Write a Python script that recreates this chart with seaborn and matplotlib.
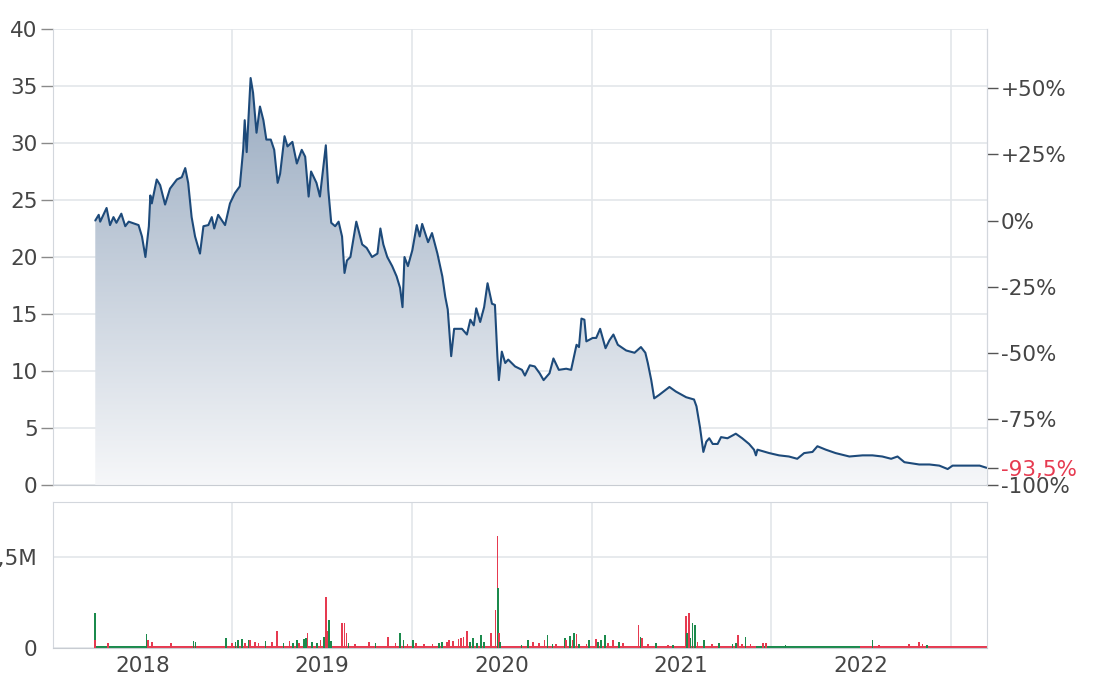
import numpy as np
import pandas as pd
import matplotlib
matplotlib.use("Agg")
import matplotlib.pyplot as plt
import matplotlib.dates as mdates
from matplotlib.colors import LinearSegmentedColormap
import seaborn as sns

# Price series (closing prices)
price_dates = [
    "2018-03-28", "2018-04-04", "2018-04-07", "2018-04-20", "2018-04-27", "2018-05-04", "2018-05-10",
    "2018-05-20", "2018-05-28", "2018-06-04", "2018-06-24", "2018-07-01", "2018-07-08", "2018-07-15",
    "2018-07-18", "2018-07-21", "2018-07-31", "2018-08-07", "2018-08-17", "2018-08-27", "2018-09-10",
    "2018-09-20", "2018-09-27", "2018-10-03", "2018-10-10", "2018-10-17", "2018-10-27", "2018-11-03",
    "2018-11-13", "2018-11-20", "2018-11-25", "2018-12-03", "2018-12-17", "2018-12-27",
    "2019-01-06", "2019-01-16", "2019-01-23", "2019-01-26", "2019-01-30", "2019-02-07", "2019-02-12",
    "2019-02-19", "2019-02-26", "2019-03-05", "2019-03-11", "2019-03-20", "2019-03-27", "2019-04-03",
    "2019-04-08", "2019-04-17", "2019-04-23", "2019-05-03", "2019-05-12", "2019-05-22", "2019-05-29",
    "2019-06-05", "2019-06-10", "2019-06-21", "2019-06-28", "2019-07-10", "2019-07-15", "2019-07-21",
    "2019-07-29", "2019-08-05", "2019-08-12", "2019-08-17", "2019-08-22", "2019-08-29", "2019-09-10",
    "2019-09-22", "2019-10-01", "2019-10-12", "2019-10-23", "2019-10-29", "2019-11-04", "2019-11-12",
    "2019-11-22", "2019-12-01", "2019-12-08", "2019-12-13", "2019-12-17", "2019-12-24",
    "2020-01-02", "2020-01-11", "2020-01-17", "2020-01-22", "2020-02-03", "2020-02-11", "2020-02-22",
    "2020-03-03", "2020-03-09", "2020-03-14", "2020-03-21", "2020-03-27", "2020-04-12", "2020-04-22",
    "2020-04-29", "2020-05-06", "2020-05-11", "2020-05-19", "2020-05-27", "2020-06-03", "2020-06-12",
    "2020-06-18", "2020-06-23", "2020-06-26", "2020-07-02", "2020-07-09", "2020-07-15", "2020-07-29",
    "2020-08-12", "2020-08-18", "2020-08-28", "2020-09-07", "2020-09-17", "2020-09-25", "2020-10-07",
    "2020-10-15", "2020-10-26", "2020-11-10", "2020-11-20", "2020-12-01", "2020-12-06", "2020-12-11",
    "2020-12-17", "2020-12-21",
    "2021-01-03", "2021-01-10", "2021-01-18", "2021-01-29", "2021-02-06", "2021-02-14", "2021-02-23",
    "2021-03-12", "2021-03-29", "2021-04-11", "2021-04-20", "2021-04-25", "2021-05-02", "2021-05-08",
    "2021-05-18", "2021-06-08", "2021-06-21", "2021-07-12", "2021-07-28", "2021-08-02", "2021-08-09",
    "2021-08-16", "2021-08-22", "2021-08-28", "2021-09-04", "2021-09-14", "2021-09-21", "2021-10-04",
    "2021-10-21", "2021-11-03", "2021-11-17", "2021-11-27", "2021-12-01", "2021-12-04", "2021-12-28",
    "2022-01-17", "2022-02-06", "2022-02-23", "2022-03-09", "2022-03-26", "2022-04-05", "2022-04-22",
    "2022-05-12", "2022-06-09", "2022-07-06", "2022-07-26", "2022-08-15", "2022-09-02", "2022-09-15",
    "2022-09-29", "2022-10-29", "2022-11-19", "2022-12-09", "2022-12-26",
    "2023-01-05", "2023-02-02", "2023-03-01", "2023-03-15",
]
price_values = [
    23.2, 23.7, 23.1, 24.3, 22.8, 23.5, 23.0,
    23.8, 22.7, 23.1, 22.8, 21.8, 20.0, 22.7,
    25.4, 24.7, 26.8, 26.3, 24.6, 26.0, 26.8,
    27.0, 27.8, 26.5, 23.5, 21.8, 20.3, 22.7,
    22.8, 23.5, 22.5, 23.7, 22.8, 24.7,
    25.6, 26.2, 29.5, 32.0, 29.2, 35.7, 34.4,
    30.9, 33.2, 32.0, 30.3, 30.3, 29.4, 26.5,
    27.3, 30.6, 29.7, 30.1, 28.2, 29.4, 28.8,
    25.3, 27.5, 26.5, 25.3, 29.8, 25.9, 23.0,
    22.7, 23.1, 21.8, 18.6, 19.7, 20.0, 23.1,
    21.1, 20.8, 20.0, 20.3, 22.5, 21.1, 20.0,
    19.2, 18.3, 17.3, 15.6, 20.0, 19.2,
    20.6, 22.8, 21.8, 22.9, 21.3, 22.1, 20.3,
    18.3, 16.5, 15.4, 11.3, 13.7, 13.7, 13.2,
    14.5, 14.0, 15.5, 14.3, 15.6, 17.7, 15.9,
    15.8, 11.3, 9.2, 11.7, 10.7, 11.0, 10.4,
    10.1, 9.6, 10.5, 10.4, 9.8, 9.2, 9.8,
    11.1, 10.1, 10.2, 10.1, 12.3, 12.1, 14.6,
    14.5, 12.6,
    12.9, 12.9, 13.7, 12.0, 12.7, 13.2, 12.3,
    11.8, 11.6, 12.1, 11.6, 10.7, 9.2, 7.6,
    7.9, 8.6, 8.2, 7.7, 7.5, 6.9, 5.1,
    2.9, 3.8, 4.1, 3.6, 3.6, 4.2, 4.1,
    4.5, 4.1, 3.6, 3.1, 2.6, 3.1, 2.8,
    2.6, 2.5, 2.3, 2.8, 2.9, 3.4, 3.1,
    2.8, 2.5, 2.6, 2.6, 2.5, 2.3, 2.5,
    2.0, 1.8, 1.8, 1.7, 1.4,
    1.7, 1.7, 1.7, 1.51,
]

# Daily volume spikes (millions), 1 = up day (green), 0 = down day (red)
vol_dates = [
    "2018-03-27", "2018-03-28", "2018-04-23", "2018-07-10", "2018-07-13", "2018-07-21", "2018-08-29",
    "2018-10-14", "2018-10-18", "2018-12-19", "2018-12-31",
    "2019-01-07", "2019-01-13", "2019-01-20", "2019-01-26", "2019-02-03", "2019-02-06", "2019-02-16",
    "2019-02-23", "2019-03-09", "2019-03-23", "2019-04-02", "2019-04-15", "2019-04-27", "2019-05-04",
    "2019-05-12", "2019-05-16", "2019-05-26", "2019-05-31", "2019-06-03", "2019-06-12", "2019-06-22",
    "2019-06-29", "2019-07-06", "2019-07-11", "2019-07-14", "2019-07-17", "2019-07-20", "2019-08-12",
    "2019-08-17", "2019-08-21", "2019-08-25", "2019-09-08", "2019-10-06", "2019-10-19", "2019-11-13",
    "2019-11-29", "2019-12-08", "2019-12-15", "2019-12-23",
    "2020-01-04", "2020-01-09", "2020-01-26", "2020-02-12", "2020-02-25", "2020-03-03", "2020-03-13",
    "2020-03-16", "2020-03-25", "2020-04-05", "2020-04-10", "2020-04-15", "2020-04-22", "2020-04-29",
    "2020-05-04", "2020-05-12", "2020-05-20", "2020-05-27", "2020-06-10", "2020-06-19", "2020-06-23",
    "2020-06-24", "2020-06-26", "2020-06-29", "2020-08-11", "2020-08-25", "2020-09-04", "2020-09-16",
    "2020-09-27", "2020-10-03", "2020-10-13", "2020-10-20", "2020-11-07", "2020-11-10", "2020-11-17",
    "2020-11-23", "2020-11-26", "2020-12-01", "2020-12-06", "2020-12-21", "2020-12-26",
    "2021-01-10", "2021-01-13", "2021-01-20", "2021-01-28", "2021-02-03", "2021-02-13", "2021-02-26",
    "2021-03-05", "2021-04-06", "2021-04-10", "2021-04-13", "2021-04-25", "2021-05-12", "2021-06-05",
    "2021-06-15", "2021-07-11", "2021-07-14", "2021-07-18", "2021-07-21", "2021-07-25", "2021-07-30",
    "2021-08-04", "2021-08-17", "2021-09-03", "2021-09-17", "2021-10-14", "2021-10-21", "2021-10-26",
    "2021-11-03", "2021-11-10", "2021-11-20", "2021-12-15", "2021-12-22",
    "2022-01-30", "2022-07-26", "2022-08-08", "2022-10-09", "2022-10-28", "2022-11-05", "2022-11-14",
]
vol_values = [
    0.194, 0.044, 0.026, 0.075, 0.044, 0.035, 0.025,
    0.040, 0.035, 0.053, 0.026,
    0.035, 0.044, 0.048, 0.026, 0.044, 0.044, 0.035,
    0.026, 0.040, 0.035, 0.095, 0.026, 0.040, 0.026,
    0.044, 0.030, 0.048, 0.053, 0.084, 0.035, 0.026,
    0.044, 0.062, 0.278, 0.095, 0.154, 0.040, 0.136,
    0.136, 0.084, 0.026, 0.022, 0.035, 0.026, 0.062,
    0.026, 0.084, 0.044, 0.022,
    0.044, 0.026, 0.020, 0.020, 0.026, 0.035, 0.035,
    0.044, 0.040, 0.048, 0.053, 0.062, 0.095, 0.035,
    0.053, 0.026, 0.070, 0.035, 0.084, 0.210, 0.612,
    0.330, 0.084, 0.035, 0.018, 0.044, 0.035, 0.026,
    0.044, 0.070, 0.022, 0.022, 0.053, 0.044, 0.066,
    0.044, 0.084, 0.075, 0.022, 0.022, 0.044,
    0.048, 0.035, 0.044, 0.070, 0.026, 0.044, 0.035,
    0.026, 0.126, 0.062, 0.053, 0.020, 0.026, 0.018,
    0.018, 0.176, 0.084, 0.194, 0.053, 0.136, 0.126,
    0.035, 0.044, 0.022, 0.026, 0.022, 0.026, 0.070,
    0.022, 0.062, 0.022, 0.026, 0.026,
    0.015, 0.044, 0.015, 0.022, 0.035, 0.020, 0.015,
]
vol_up = [
    1, 0, 0, 1, 0, 0, 0,
    1, 1, 1, 0,
    1, 1, 1, 0, 1, 0, 0,
    0, 1, 0, 0, 1, 0, 1,
    1, 0, 1, 1, 0, 1, 1,
    0, 1, 0, 0, 1, 1, 0,
    0, 0, 1, 0, 0, 1, 0,
    0, 1, 1, 0,
    1, 0, 0, 0, 1, 1, 0,
    0, 0, 0, 0, 0, 0, 1,
    1, 1, 1, 1, 0, 0, 0,
    1, 0, 1, 1, 1, 0, 0,
    0, 1, 1, 0, 1, 0, 1,
    0, 1, 0, 1, 0, 1,
    0, 1, 1, 1, 0, 0, 1,
    0, 0, 1, 0, 0, 1, 0,
    1, 0, 1, 0, 1, 1, 1,
    0, 1, 0, 1, 1, 1, 0,
    0, 1, 0, 0, 0,
    1, 1, 0, 0, 0, 0, 1,
]

# Low everyday volume, read as stretches of roughly constant height
base_start = ["2018-03-29", "2018-07-10", "2019-01-01", "2020-01-01", "2021-01-01", "2021-12-01", "2022-07-01"]
base_end = ["2018-07-10", "2019-01-01", "2020-01-01", "2021-01-01", "2021-12-01", "2022-07-01", "2023-03-15"]
base_level = [0.011, 0.011, 0.013, 0.013, 0.012, 0.011, 0.011]
base_up = [1, 0, 0, 0, 0, 1, 0]

# Reference level for the percent axis (first close)
base_price = 23.2
pct_ticks = [0.50, 0.25, 0.0, -0.25, -0.50, -0.75, -1.0]
pct_labels = ["+50%", "+25%", "0%", "-25%", "-50%", "-75%", "-100%"]
year_labels = ["2018", "2019", "2020", "2021", "2022"]

LINE_COLOR = "#1d4a7a"
GREEN = "#1b8a4c"
RED = "#e63a50"
GRID = "#e3e6ea"
SPINE = "#d3d7dd"
TEXT = "#454545"
FS = 15.5

sns.set_style("white")
plt.rcParams["font.family"] = ["DejaVu Sans"]

df = pd.DataFrame({"date": pd.to_datetime(price_dates), "price": price_values})
vol = pd.DataFrame({"date": pd.to_datetime(vol_dates), "volume": vol_values, "up": vol_up})

fig = plt.figure(figsize=(10.98, 6.86), dpi=100)
ax = fig.add_axes([53 / 1098, 1 - 485 / 686, (987 - 53) / 1098, (485 - 29) / 686])
axv = fig.add_axes([53 / 1098, 1 - 648 / 686, (987 - 53) / 1098, (648 - 502) / 686], sharex=ax)

x_start = pd.Timestamp("2018-01-01")
x_end = pd.Timestamp("2023-03-16")

# gradient area under the price line
poly = ax.fill_between(df["date"], df["price"], 0, color="none", lw=0)
cmap = LinearSegmentedColormap.from_list("area", ["#f6f7f9", "#8ea2ba"])
grad = np.linspace(1, 0, 256).reshape(-1, 1)
im = ax.imshow(grad, cmap=cmap, aspect="auto", origin="upper",
               extent=[mdates.date2num(x_start), mdates.date2num(x_end), 0, 40], zorder=1)
im.set_clip_path(poly.get_paths()[0], transform=ax.transData)

sns.lineplot(data=df, x="date", y="price", ax=ax, color=LINE_COLOR, linewidth=1.5, zorder=3)

ax.set_xlim(x_start, x_end)
ax.set_ylim(0, 40)
ax.set_yticks(range(0, 41, 5))
ax.set_xlabel("")
ax.set_ylabel("")
ax.grid(True, color=GRID, linewidth=1.2)
ax.set_axisbelow(True)
ax.tick_params(axis="y", length=9, width=1, color="#8a8a8a", pad=2, labelsize=FS, labelcolor=TEXT)
for side in ["left", "bottom", "right"]:
    ax.spines[side].set_color(SPINE)
ax.spines["bottom"].set_color("#c8ccd2")
ax.spines["top"].set_visible(False)

# percent axis on the right
ax2 = ax.twinx()
ax2.set_ylim(0, 40)
last_price = price_values[-1]
last_pct = last_price / base_price - 1
r_ticks = [base_price * (1 + p) for p in pct_ticks] + [last_price]
r_labels = pct_labels + ["{:.1f}%".format(last_pct * 100).replace(".", ",")]
ax2.set_yticks(r_ticks)
ax2.set_yticklabels(r_labels)
ax2.tick_params(axis="y", length=8, width=1, color="#555555", pad=2, labelsize=FS, labelcolor=TEXT)
ax2.get_yticklabels()[-1].set_color(RED)
for side in ["left", "bottom", "top"]:
    ax2.spines[side].set_visible(False)
ax2.spines["right"].set_color(SPINE)

# volume panel
for s, e, lv, up in zip(base_start, base_end, base_level, base_up):
    s, e = pd.Timestamp(s), pd.Timestamp(e)
    axv.bar(s, lv, width=(e - s).days, align="edge", color=GREEN if up else RED, lw=0, zorder=2)
axv.bar(vol["date"], vol["volume"], width=3.5,
        color=[GREEN if u else RED for u in vol["up"]], lw=0, zorder=3)

axv.set_ylim(0, 0.80)
axv.set_yticks([0, 0.5])
axv.set_yticklabels(["0", "0,5M"])
axv.xaxis.set_major_locator(mdates.YearLocator())
axv.xaxis.set_major_formatter(plt.NullFormatter())
minor_locs = [mdates.date2num(pd.Timestamp(y + "-07-02")) for y in year_labels]
axv.xaxis.set_minor_locator(plt.FixedLocator(minor_locs))
axv.xaxis.set_minor_formatter(plt.FixedFormatter(year_labels))
axv.tick_params(axis="x", which="both", length=0, pad=6, labelsize=FS, labelcolor=TEXT)
axv.tick_params(axis="y", length=9, width=1, color="#8a8a8a", pad=2, labelsize=FS, labelcolor=TEXT)
axv.grid(True, which="major", color=GRID, linewidth=1.2)
axv.set_axisbelow(True)
for side in ["left", "bottom", "right", "top"]:
    axv.spines[side].set_color(SPINE)
axv.spines["bottom"].set_color("#c8ccd2")

# hide the shared x labels on the price panel
ax.tick_params(axis="x", which="both", length=0, labelbottom=False)

fig.savefig("out.png", dpi=100)
plt.close(fig)
